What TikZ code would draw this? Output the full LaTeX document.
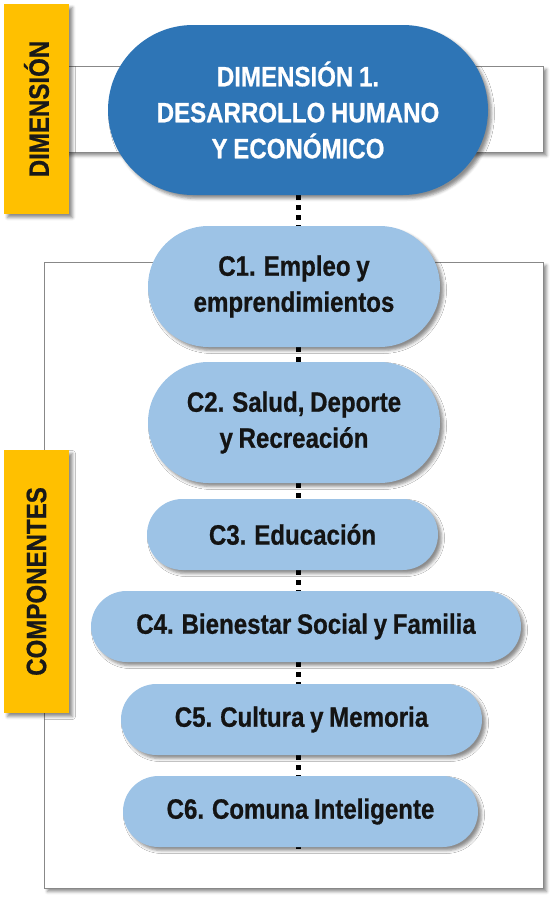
\documentclass[tikz,border=0pt]{standalone}
\usepackage{fontspec}
\newfontfamily\cond{Liberation Sans}[FakeStretch=0.86,FakeBold=0.7,WordSpace=0.85]
\usetikzlibrary{shadows.blur}
\definecolor{dimblue}{RGB}{46,117,182}
\definecolor{compblue}{RGB}{157,195,230}
\definecolor{tabyellow}{RGB}{255,192,0}
\definecolor{framegray}{RGB}{136,136,136}
\tikzset{
  shad/.style={blur shadow={shadow xshift=3.5pt,shadow yshift=-3.5pt,shadow blur radius=3pt,shadow opacity=45}},
  txt/.style={font=\cond\bfseries\fontsize{28}{36}\selectfont, align=center, inner sep=0pt},
  framebox/.style={draw=framegray, line width=1pt, fill=white, shad, inner sep=0pt},
  tabbox/.style={fill=tabyellow, shad, inner sep=0pt, minimum width=65pt},
  tabtext/.style={txt, text=black!90, rotate=90},
  dimnode/.style={txt, fill=dimblue, text=white, shad, rounded corners=85pt, minimum width=380pt, minimum height=170pt},
  bignode/.style={txt, fill=compblue, text=black!92, shad, rounded corners=60.5pt, minimum height=121pt},
  smallnode/.style={txt, fill=compblue, text=black!92, shad, rounded corners=35.5pt, minimum height=71pt},
  dotlink/.style={draw=black, line width=5pt, dash pattern=on 5pt off 5pt},
}
\begin{document}
\begin{tikzpicture}[x=1pt,y=-1pt]
\useasboundingbox (0,0) rectangle (557,902);
% frames
\node[framebox, minimum width=478pt, minimum height=86pt] (topframe) at (304,109) {};
\node[framebox, minimum width=499pt, minimum height=626pt] (compframe) at (293.5,575) {};
% tabs
\node[tabbox, minimum height=210pt, label={[tabtext]center:DIMENSIÓN}] (tabdim) at (36.5,109) {};
\node[tabbox, minimum height=263pt, label={[tabtext]center:COMPONENTES}] (tabcomp) at (36.5,581.5) {};
% spine
\coordinate (sx) at (298.5,0);
\coordinate (endstub) at (298.5,848.5);
% node positions
\path
  (298,110) coordinate (pdim)
  (294,286.5) coordinate (pc1)
  (294,422.5) coordinate (pc2)
  (292.5,534.5) coordinate (pc3)
  (306,626.5) coordinate (pc4)
  (301.5,719.5) coordinate (pc5)
  (300.5,811.5) coordinate (pc6);
% anchors for connectors
\path
  (298,195) coordinate (dimS)
  (294,226) coordinate (c1N) (294,347) coordinate (c1S)
  (294,362) coordinate (c2N) (294,483) coordinate (c2S)
  (292.5,499) coordinate (c3N) (292.5,570) coordinate (c3S)
  (306,591) coordinate (c4N) (306,662) coordinate (c4S)
  (301.5,684) coordinate (c5N) (301.5,755) coordinate (c5S)
  (300.5,776) coordinate (c6N) (300.5,846) coordinate (c6S);
\draw[dotlink] (dimS -| sx) -- (c1N -| sx);
\draw[dotlink] (c1S -| sx) -- (c2N -| sx);
\draw[dotlink] (c2S -| sx) -- (c3N -| sx);
\draw[dotlink] (c3S -| sx) -- (c4N -| sx);
\draw[dotlink] (c4S -| sx) -- (c5N -| sx);
\draw[dotlink] (c5S -| sx) -- (c6N -| sx);
\draw[draw=black, line width=5pt] (c6S -| sx) -- (endstub);
% main nodes
\node[dimnode] (dim) at (pdim) {DIMENSIÓN 1.\\DESARROLLO HUMANO\\Y ECONÓMICO};
\node[bignode, minimum width=292pt] (c1) at (pc1) {C1. Empleo y\\emprendimientos};
\node[bignode, minimum width=292pt] (c2) at (pc2) {C2. Salud, Deporte\\y Recreación};
\node[smallnode, minimum width=291pt] (c3) at (pc3) {C3. Educación};
\node[smallnode, minimum width=430pt] (c4) at (pc4) {C4. Bienestar Social y Familia};
\node[smallnode, minimum width=361pt] (c5) at (pc5) {C5. Cultura y Memoria};
\node[smallnode, minimum width=355pt] (c6) at (pc6) {C6. Comuna Inteligente};
\end{tikzpicture}
\end{document}
